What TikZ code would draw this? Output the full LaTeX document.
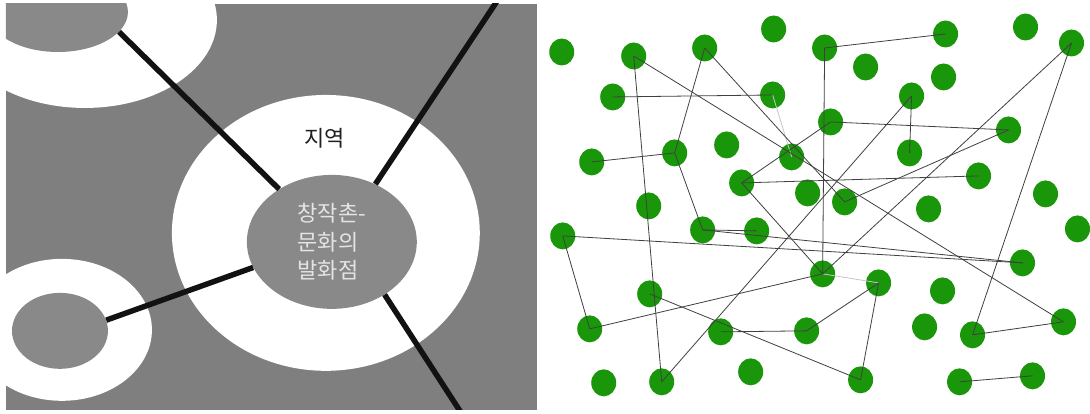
\documentclass[tikz,border=0pt]{standalone}
\usepackage{fontspec}
\newfontfamily\kofont{Noto Sans CJK KR}
\usetikzlibrary{shapes.geometric}
\definecolor{panelgray}{RGB}{127,127,127}
\definecolor{coregray}{RGB}{137,137,137}
\definecolor{coretext}{RGB}{228,228,228}
\definecolor{dotgreen}{RGB}{26,150,10}

\begin{document}
\begin{tikzpicture}[
  x=1pt, y=-1pt,
  ring/.style={ellipse, fill=white, inner sep=0pt},
  hole/.style={ellipse, fill=coregray, inner sep=0pt},
  kotext/.style={font={\kofont\fontsize{22}{28.5}\selectfont}},
  spoke/.style={draw=black!93, line width=5.5pt},
  dot/.style={ellipse, fill=dotgreen, inner sep=0pt,
              minimum width=25pt, minimum height=27pt},
  link/.style={draw=black!75, line width=0.8pt},
  faint/.style={draw=black!22, line width=0.8pt}
]
\fill[white] (0,0) rectangle (1090,414);
\begin{scope}
  \clip (6,4) rectangle (537,410);
  \fill[panelgray] (6,4) rectangle (537,410);
  \node[ring, minimum width=264pt, minimum height=176pt] (nwring) at (85,20) {};
  \node[hole, minimum width=140pt, minimum height=80pt]  (nwhole) at (58,12) {};
  \node[ring, minimum width=180pt, minimum height=142pt] (swring) at (62,330) {};
  \node[hole, minimum width=96pt, minimum height=76pt]   (swhole) at (60,331) {};
  \node[ring, minimum width=308pt, minimum height=276pt] (region) at (326,233) {};
  \node[kotext, text=black!88] (regionname) at (325,138) {지역};
  \node[hole, kotext, text=coretext, align=left,
        minimum width=170pt, minimum height=134pt] (hub) at (332,242)
    {창작촌-\\문화의\\발화점};
  \coordinate (netop) at (498,0);
  \coordinate (sebot) at (462,414);
  \draw[spoke] (nwhole.-18) -- (hub.135);
  \draw[spoke] (hub.53) -- (netop);
  \draw[spoke] (hub.-45) -- (sebot);
  \draw[spoke] (swhole.13) -- (hub.198);
\end{scope}

\foreach \x/\y [count=\i] in {
  562/52, 634/56, 705/48, 774/29, 825/48, 946/34, 1026/27, 1072/43,
  866/67, 944/77, 613/97, 773/95, 912/96, 831/122, 1009/130, 592/162,
  675/153, 727/145, 792/157, 910/153, 742/183, 979/176, 808/193, 845/202,
  1046/194, 649/206, 929/209, 563/236, 703/230, 757/231, 1078/229, 1023/263,
  823/274, 879/283, 943/291, 650/294, 590/329, 721/332, 807/331, 925/327,
  973/335, 1064/322, 751/372, 604/383, 662/382, 861/380, 960/382, 1033/376}
  \node[dot] (d\i) at (\x,\y) {};

\draw[faint] (d12.center) -- (d19.center);
\draw[faint] (d33.center) -- (d34.center);
\foreach \a/\b in {11/12, 16/17, 2/42, 2/45, 3/17, 17/29, 29/30, 29/32,
  28/32, 28/37, 37/33, 3/24, 24/15, 21/14, 14/15, 21/22, 21/33, 5/6, 5/33,
  45/13, 13/20, 8/33, 8/41, 41/42, 36/46, 46/34, 39/34, 38/39, 47/48}
  \draw[link] (d\a.center) -- (d\b.center);
\end{tikzpicture}
\end{document}
